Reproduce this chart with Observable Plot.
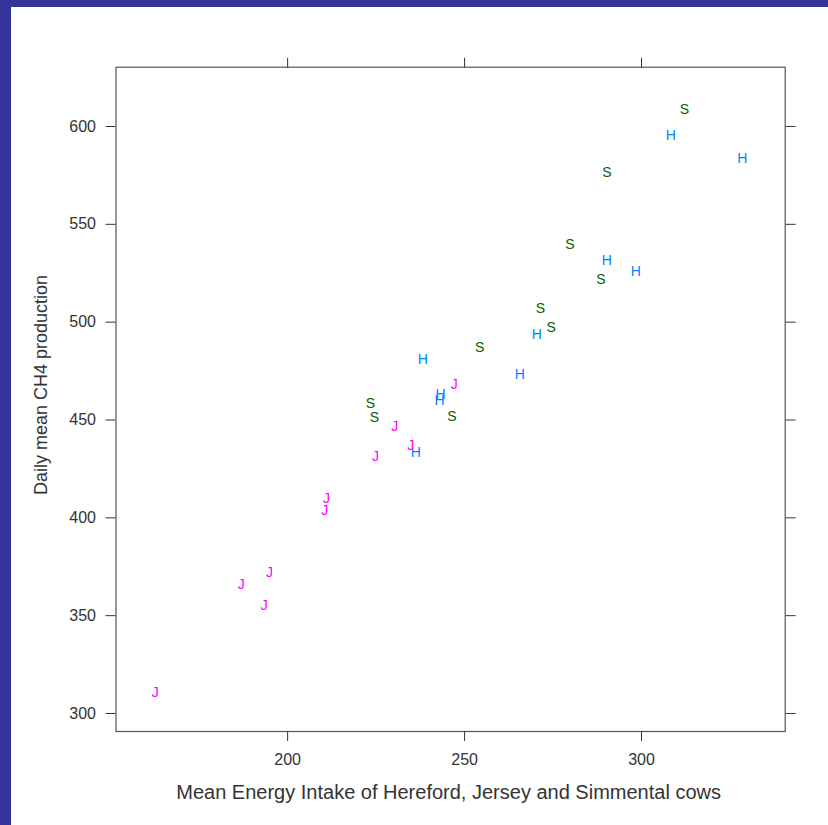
<!DOCTYPE html>
<html>
<head>
<meta charset="utf-8">
<script src="https://cdn.jsdelivr.net/npm/d3@7"></script>
<script src="https://cdn.jsdelivr.net/npm/@observablehq/plot@0.6"></script>
<style>
  html, body { margin: 0; padding: 0; background: white; }
  #wrap {
    width: 828px; height: 825px; box-sizing: border-box;
    border-left: 11px solid #333399; border-top: 7px solid #333399;
    background: white; overflow: hidden;
  }
  #wrap svg { display: block; }
</style>
</head>
<body>
<div id="wrap"></div>
<script>
// Breeds (marker letters) and their colours
const breeds = ["H", "J", "S"];
const breedColors = ["#0080ff", "#ff00ff", "darkgreen"];

// Simmental (S)
const simIntake = [312.1, 290.2, 279.8, 288.5, 271.4, 274.5, 254.3, 223.4, 224.5, 246.4];
const simCH4    = [608.8, 576.5, 539.7, 521.6, 506.8, 497.4, 487.1, 458.3, 451.1, 451.8];

// Hereford (H)
const herIntake = [308.3, 328.5, 290.2, 298.4, 270.4, 238.2, 265.6, 243.2, 242.9, 236.2];
const herCH4    = [595.2, 583.6, 531.5, 526.0, 493.8, 480.8, 473.4, 463.0, 460.0, 433.4];

// Jersey (J)
const jerIntake = [247.1, 230.3, 234.8, 224.8, 211.0, 210.5, 194.9, 186.9, 193.4, 162.6];
const jerCH4    = [468.0, 446.7, 436.8, 431.5, 409.7, 403.7, 372.1, 365.9, 355.2, 310.7];

// Axis ticks and titles
const xTicks = [200, 250, 300];
const yTicks = [300, 350, 400, 450, 500, 550, 600];
const xTitle = "Mean Energy Intake of Hereford, Jersey and Simmental cows";
const yTitle = "Daily mean CH4 production";

const data = [
  ...simIntake.map((v, i) => ({breed: "S", intake: v, ch4: simCH4[i]})),
  ...herIntake.map((v, i) => ({breed: "H", intake: v, ch4: herCH4[i]})),
  ...jerIntake.map((v, i) => ({breed: "J", intake: v, ch4: jerCH4[i]}))
];

const font = "'Liberation Sans', Arial, Helvetica, sans-serif";
const ink = "#333";

const chart = Plot.plot({
  width: 817,
  height: 818,
  marginLeft: 104.5,
  marginRight: 43.3,
  marginTop: 59.7,
  marginBottom: 94,
  style: {fontFamily: font, fontSize: "16px", background: "white", color: ink},
  x: {domain: [151.5, 340.6]},
  y: {domain: [290.8, 630.3]},
  color: {domain: breeds, range: breedColors},
  marks: [
    Plot.frame({stroke: "#555", strokeWidth: 1.2}),
    Plot.axisX({ticks: xTicks, anchor: "bottom", tickSize: 10, tickPadding: 12, fontSize: 16, label: null, color: ink}),
    Plot.axisX({ticks: xTicks, anchor: "top", tickSize: 10, tickFormat: () => "", label: null, color: ink}),
    Plot.axisY({ticks: yTicks, anchor: "left", tickSize: 10, tickPadding: 10, fontSize: 16, label: null, color: ink}),
    Plot.axisY({ticks: yTicks, anchor: "right", tickSize: 10, tickFormat: () => "", label: null, color: ink}),
    Plot.text(data, {x: "intake", y: "ch4", text: "breed", fill: "breed", fontSize: 14, fontFamily: font}),
    Plot.text([xTitle], {text: d => d, frameAnchor: "bottom", textAnchor: "middle", lineAnchor: "middle", dx: -2, dy: 61.5, fontSize: 20, fill: ink, fontFamily: font}),
    Plot.text([yTitle], {text: d => d, frameAnchor: "left", textAnchor: "middle", lineAnchor: "middle", rotate: -90, dx: -74.8, dy: -14.4, fontSize: 18, fill: ink, fontFamily: font})
  ]
});

document.getElementById("wrap").appendChild(chart);
</script>
</body>
</html>
